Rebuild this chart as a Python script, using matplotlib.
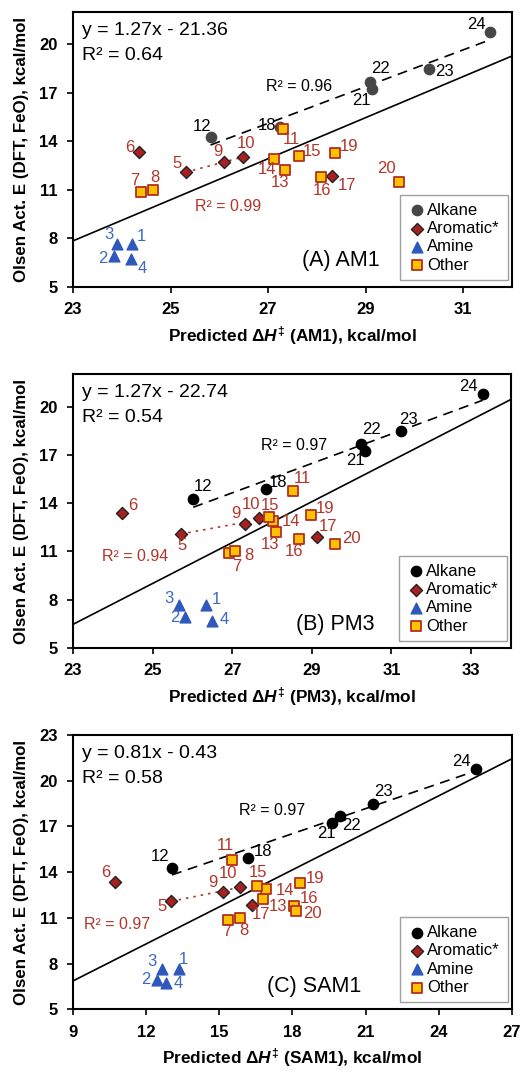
import numpy as np
import matplotlib
matplotlib.use("Agg")
import matplotlib.pyplot as plt

plt.rcParams['font.family'] = ['Liberation Sans', 'DejaVu Sans']
plt.rcParams['mathtext.fontset'] = 'custom'
plt.rcParams['mathtext.rm'] = 'Liberation Sans:bold'
plt.rcParams['mathtext.it'] = 'Liberation Sans:bold:italic'
plt.rcParams['mathtext.bf'] = 'Liberation Sans:bold'

# compound numbers per group
alk_ids = [12, 18, 21, 22, 23, 24]
aro_ids = [5, 6, 9, 10, 17]
ami_ids = [1, 2, 3, 4]
oth_ids = [7, 8, 11, 13, 14, 15, 16, 19, 20]

# Olsen activation energy (same in every panel)
alk_y = [14.27, 14.9, 17.24, 17.7, 18.46, 20.75]
aro_y = [12.1, 13.36, 12.71, 13.05, 11.87]
ami_y = [7.66, 6.9, 7.66, 6.7]
oth_y = [10.89, 11.02, 14.77, 12.22, 12.91, 13.12, 11.79, 13.27, 11.48]

# predicted dH (AM1)
am1_alk = [25.82, 27.25, 29.12, 29.09, 30.29, 31.54]
am1_aro = [25.31, 24.36, 26.10, 26.49, 28.31]
am1_ami = [24.22, 23.84, 23.90, 24.19]
am1_oth = [24.40, 24.65, 27.31, 27.34, 27.12, 27.63, 28.08, 28.37, 29.69]

# predicted dH (PM3)
pm3_alk = [26.02, 27.84, 30.33, 30.23, 31.23, 33.29]
pm3_aro = [25.71, 24.23, 27.33, 27.66, 29.14]
pm3_ami = [26.35, 25.82, 25.66, 26.50]
pm3_oth = [26.92, 27.06, 28.53, 28.09, 28.03, 27.92, 28.68, 28.98, 29.57]

# predicted dH (SAM1)
sam_alk = [13.06, 16.16, 19.64, 19.93, 21.30, 25.53]
sam_aro = [13.03, 10.71, 15.17, 15.83, 16.36]
sam_ami = [13.36, 12.43, 12.63, 12.81]
sam_oth = [15.35, 15.86, 15.54, 16.81, 16.92, 16.54, 18.06, 18.29, 18.13]

fit_coef = {'AM1': (1.27, -21.36), 'PM3': (1.27, -22.74), 'SAM1': (0.81, -0.43)}
r2_all = {'AM1': '0.64', 'PM3': '0.54', 'SAM1': '0.58'}
r2_alk = {'AM1': '0.96', 'PM3': '0.97', 'SAM1': '0.97'}
r2_aro = {'AM1': '0.99', 'PM3': '0.94', 'SAM1': '0.97'}

RED = '#b2352b'
BLUE = '#3d68c4'

# label offsets in pixels (dx, dy)
offs_am1 = {24: (-12, 7), 23: (15, -2), 22: (10, 12), 21: (-9, -11), 18: (-12, 1), 12: (-8, 10),
            11: (8, -10), 6: (-9, 4), 5: (-8, 8), 9: (-6, 10), 10: (3, 12), 14: (-6, -10),
            13: (-4, -11), 15: (12, 4), 19: (13, 6), 16: (1, -12), 17: (14, -9), 20: (-12, 13),
            7: (-6, 10), 8: (1, 11), 3: (-7, 9), 1: (8, 7), 2: (-10, -2), 4: (10, -8)}
offs_pm3 = {24: (-13, 7), 23: (7, 11), 22: (10, 13), 21: (-9, -9), 18: (11, 6), 12: (9, 11),
            11: (9, 11), 6: (10, 7), 9: (-9, 10), 10: (-7, 13), 15: (1, 11), 14: (16, -1),
            13: (-5, -12), 19: (13, 6), 17: (10, 10), 20: (16, 5), 16: (-5, -12), 5: (1, -11),
            7: (7, -12), 8: (13, -4), 3: (-9, 6), 2: (-10, 0), 1: (9, 5), 4: (11, 1)}
offs_sam = {24: (-14, 7), 23: (10, 12), 22: (11, -9), 21: (-6, -10), 18: (14, 6), 12: (-11, 11),
            11: (-7, 14), 6: (-8, 9), 9: (-10, 9), 10: (-11, 12), 15: (1, 12), 14: (17, -2),
            13: (13, -7), 19: (14, 4), 16: (14, 7), 20: (16, -3), 17: (8, -9), 5: (-9, -5),
            7: (-1, -11), 8: (3, -12), 3: (-9, 7), 2: (-10, 1), 1: (4, 9), 4: (11, 0)}

panels = [
    dict(name='AM1', tag='(A) AM1', alk=am1_alk, aro=am1_aro, ami=am1_ami, oth=am1_oth,
         xlim=(23, 32), xticks=range(23, 32, 2), ylim=(5, 22), yticks=range(5, 21, 3),
         offs=offs_am1, alk_col='#464646', rect=[0.1385, 0.7323, 0.833, 0.2565],
         alk_r2=(26.95, 17.4), aro_r2=(25.5, 9.95), tag_xy=(27.7, 6.65)),
    dict(name='PM3', tag='(B) PM3', alk=pm3_alk, aro=pm3_aro, ami=pm3_ami, oth=pm3_oth,
         xlim=(23, 34), xticks=range(23, 34, 2), ylim=(5, 22), yticks=range(5, 21, 3),
         offs=offs_pm3, alk_col='black', rect=[0.1385, 0.3955, 0.831, 0.2553],
         alk_r2=(27.72, 17.6), aro_r2=(23.73, 10.68), tag_xy=(28.6, 6.45)),
    dict(name='SAM1', tag='(C) SAM1', alk=sam_alk, aro=sam_aro, ami=sam_ami, oth=sam_oth,
         xlim=(9, 27), xticks=range(9, 28, 3), ylim=(5, 23), yticks=range(5, 24, 3),
         offs=offs_sam, alk_col='black', rect=[0.1385, 0.0585, 0.833, 0.2559],
         alk_r2=(15.8, 18.07), aro_r2=(9.44, 10.59), tag_xy=(16.95, 6.48)),
]

fig = plt.figure(figsize=(5.27, 10.72), dpi=100)

for p in panels:
    ax = fig.add_axes(p['rect'])
    ax.set_xlim(*p['xlim'])
    ax.set_ylim(*p['ylim'])
    ax.set_xticks(list(p['xticks']))
    ax.set_yticks(list(p['yticks']))
    for lab in ax.get_xticklabels() + ax.get_yticklabels():
        lab.set_fontweight('bold')
        lab.set_fontsize(12)
    ax.tick_params(direction='out', length=4, width=1.2, pad=7)
    for s in ax.spines.values():
        s.set_linewidth(1.5)

    # overall fit
    a, b = fit_coef[p['name']]
    xs = np.array(p['xlim'], dtype=float)
    ax.plot(xs, a * xs + b, color='black', lw=1.2, zorder=2)

    # alkane fit (dashed)
    ca = np.polyfit(p['alk'], alk_y, 1)
    xx = np.linspace(min(p['alk']), max(p['alk']), 100)
    ax.plot(xx, np.polyval(ca, xx), color='black', lw=1.2, dashes=(6, 4), zorder=2)

    # aromatic fit on 5, 9, 10 (dotted)
    sel = [0, 2, 3]
    ax_ = [p['aro'][i] for i in sel]
    ay_ = [aro_y[i] for i in sel]
    cr = np.polyfit(ax_, ay_, 1)
    xr = np.linspace(min(ax_), max(ax_), 50)
    ax.plot(xr, np.polyval(cr, xr), color=RED, lw=1.2, ls=(0, (1.5, 3)), zorder=2)

    ax.scatter(p['alk'], alk_y, s=55, marker='o', color=p['alk_col'], zorder=4, label='Alkane')
    ax.scatter(p['aro'], aro_y, s=38, marker='D', facecolor='#a82020', edgecolor='#222222',
               linewidth=1.0, zorder=4, label='Aromatic*')
    ax.scatter(p['ami'], ami_y, s=60, marker='^', color='#2e58bb', zorder=4, label='Amine')
    ax.scatter(p['oth'], oth_y, s=42, marker='s', facecolor='#ffc000', edgecolor='#b03020',
               linewidth=1.3, zorder=4, label='Other')

    groups = [(alk_ids, p['alk'], alk_y, 'black'),
              (aro_ids, p['aro'], aro_y, RED),
              (ami_ids, p['ami'], ami_y, BLUE),
              (oth_ids, p['oth'], oth_y, RED)]
    for ids, gx, gy, col in groups:
        for n, x, y in zip(ids, gx, gy):
            dx, dy = p['offs'][n]
            ax.annotate(str(n), (x, y), xytext=(dx * 1.08, dy * 1.08), textcoords='offset pixels',
                        ha='center', va='center', fontsize=12, color=col, zorder=5)

    ax.text(0.02, 0.932, 'y = %.2fx - %.2f' % (a, -b), transform=ax.transAxes,
            fontsize=14, va='center', ha='left')
    ax.text(0.02, 0.841, 'R² = ' + r2_all[p['name']], transform=ax.transAxes,
            fontsize=14, va='center', ha='left')
    ax.text(*p['alk_r2'], 'R² = ' + r2_alk[p['name']], fontsize=11.5, va='center', ha='left')
    ax.text(*p['aro_r2'], 'R² = ' + r2_aro[p['name']], fontsize=11.5, va='center', ha='left',
            color=RED)
    ax.text(*p['tag_xy'], p['tag'], fontsize=15.5, va='center', ha='left')

    leg = ax.legend(loc='lower right', bbox_to_anchor=(0.99, 0.025), borderaxespad=0,
                    fontsize=12, frameon=True, fancybox=False, handletextpad=0.1,
                    labelspacing=0.2, borderpad=0.45, handlelength=1.1, scatterpoints=1)
    leg.get_frame().set_edgecolor('#888888')
    leg.get_frame().set_linewidth(1.0)

    ax.set_ylabel('Olsen Act. E (DFT, FeO), kcal/mol', fontsize=12.2, fontweight='bold',
                  labelpad=7)
    ax.set_xlabel(r'Predicted $\Delta\mathit{H}^{\ddagger}$ (%s), kcal/mol' % p['name'],
                  fontsize=12.4, fontweight='bold', labelpad=5)

fig.savefig('out.png', dpi=100)
